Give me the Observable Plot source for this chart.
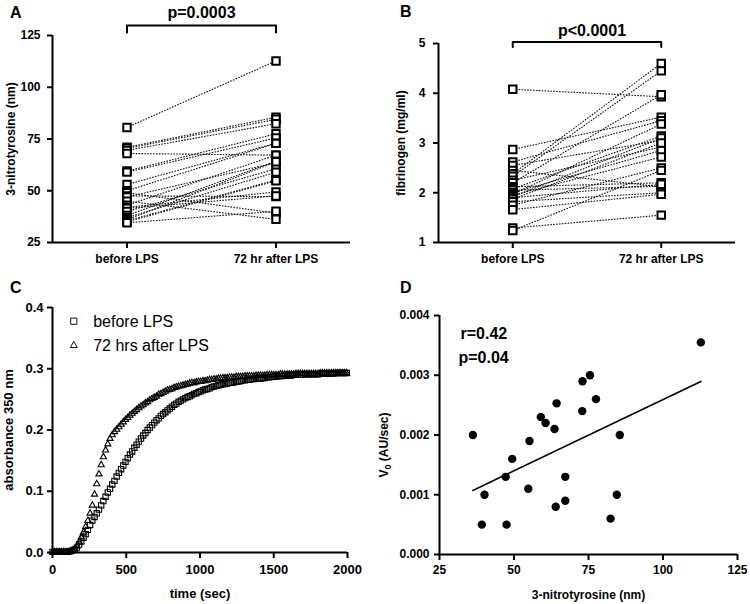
<!DOCTYPE html>
<html><head><meta charset="utf-8">
<script src="https://cdn.jsdelivr.net/npm/d3@7"></script>
<script src="https://cdn.jsdelivr.net/npm/@observablehq/plot@0.6"></script>
<style>
body{margin:0;background:#fff;}
#fig{position:relative;width:750px;height:604px;font-family:"Liberation Sans",Arial,Helvetica,sans-serif;background:#fff;}
.panel{position:absolute;}
#overlay{position:absolute;left:0;top:0;pointer-events:none;}
</style></head><body><div id="fig"></div>
<script>
// ---------- data ----------
const groups = ["before LPS", "72 hr after LPS"];

// Panel A: 3-nitrotyrosine (nm), paired
const nitroBefore = [80.6,71,70.5,69.5,68,59.5,59,53,50,49,47.5,47,45,43,42,41.5,40,38,37,36,35.5,35,34.5];
const nitroAfter  = [112.7,85.5,84.5,82.4,67.2,77.5,75.5,73.0,72.9,39.2,47.2,63.6,36.2,67.2,49.4,47.5,60.6,64.3,59.0,64.0,55.2,54.8,40.1];
const nitroTicks = [25,50,75,100,125];

// Panel B: fibrinogen (mg/ml), paired
const fibBefore = [4.08,2.87,2.62,2.55,2.45,2.38,2.33,2.25,2.2,2.12,2.08,2.05,2.0,1.97,1.95,1.92,1.9,1.87,1.82,1.75,1.66,1.29,1.24];
const fibAfter  = [3.93,3.52,3.45,3.05,2.12,4.6,4.45,2.92,3.97,2.2,3.14,2.13,2.85,3.38,2.72,3.1,2.17,3.0,2.0,2.5,1.97,1.55,2.45];
const fibTicks = [1,2,3,4,5];

// Panel C: turbidity curves, one reading every 15 s
const sampleStep = 15;
const absBefore = [
 .001,.001,.001,.001,.001,.001,.001,.001,.002,.003,
 .005,.008,.013,.018,.024,.030,.037,.045,.052,.058,
 .064,.070,.077,.084,.091,.098,.104,.111,.117,.124,
 .130,.136,.142,.148,.154,.160,.165,.171,.176,.181,
 .186,.191,.195,.200,.204,.208,.212,.216,.219,.223,
 .226,.229,.232,.235,.238,.241,.243,.246,.248,.250,
 .252,.254,.255,.257,.259,.260,.262,.263,.265,.266,
 .267,.268,.270,.271,.272,.273,.274,.275,.275,.276,
 .277,.277,.278,.279,.279,.280,.281,.281,.282,.282,
 .283,.283,.284,.284,.284,.285,.285,.286,.286,.287,
 .287,.287,.288,.288,.288,.289,.289,.289,.289,.290,
 .290,.290,.290,.290,.291,.291,.291,.291,.291,.291,
 .291,.292,.292,.292,.292,.292,.292,.292,.293,.293,
 .293,.293,.293,.293];
const absAfter = [
 .001,.001,.001,.001,.001,.001,.001,.001,.002,.003,
 .005,.010,.017,.025,.033,.042,.052,.064,.077,.095,
 .112,.128,.143,.156,.167,.177,.186,.192,.197,.201,
 .205,.209,.213,.217,.220,.224,.227,.230,.233,.236,
 .239,.241,.244,.246,.249,.251,.253,.255,.258,.259,
 .261,.263,.265,.266,.267,.269,.270,.271,.272,.273,
 .274,.275,.276,.277,.277,.278,.279,.279,.280,.280,
 .281,.282,.282,.283,.283,.284,.284,.285,.285,.285,
 .286,.286,.286,.287,.287,.287,.287,.288,.288,.288,
 .288,.288,.289,.289,.289,.289,.289,.290,.290,.290,
 .290,.290,.290,.291,.291,.291,.291,.291,.291,.291,
 .292,.292,.292,.292,.292,.292,.292,.292,.292,.292,
 .292,.293,.293,.293,.293,.293,.293,.293,.293,.293,
 .293,.293,.293,.293];
const timeTicks = [0,500,1000,1500,2000];
const absTicks = [0,0.1,0.2,0.3,0.4];
const curveLabels = ["before LPS", "72 hrs after LPS"];

// Panel D: V0 vs 3-nitrotyrosine
const scatterNitro = [36.2,40.1,39.2,47.2,47.5,49.4,55.2,54.8,59.0,60.6,63.6,64.3,64.0,67.2,67.2,72.9,73.0,75.5,77.5,82.4,84.5,85.5,112.7];
const scatterV0 = [0.0020,0.0010,0.0005,0.0013,0.0005,0.0016,0.0019,0.0011,0.0023,0.0022,0.0021,0.00253,0.0008,0.0013,0.0009,0.0024,0.0029,0.0030,0.0026,0.0006,0.0010,0.0020,0.00355];
const v0Ticks = [0,0.001,0.002,0.003,0.004];
const scatterTicks = [25,50,75,100,125];

// ---------- drawing ----------
const FONT = '"Liberation Sans", Arial, Helvetica, sans-serif';
const baseStyle = {fontFamily: FONT, fontSize: "12px", fontWeight: "bold", background: "transparent", overflow: "visible", color: "black"};
const fig = document.getElementById("fig");
function place(node, left, top) {
  const d = document.createElement("div");
  d.className = "panel"; d.style.left = left + "px"; d.style.top = top + "px";
  d.appendChild(node); fig.appendChild(d);
}

function pairedPanel(o) {
  const innerH = o.height - o.marginTop - o.marginBottom;
  const k = (o.yDomain[1] - o.yDomain[0]) / innerH;
  const top = o.yDomain[1];
  const rows = o.before.map((b, i) => ({b, a: o.after[i]}));
  const pts = rows.flatMap(r => [{x: 0.5, y: r.b}, {x: 1.5, y: r.a}]);
  const bracket = [
    {x: 0.5, y: top + o.bracketEnd * k},
    {x: 0.5, y: top + o.bracketY * k},
    {x: 1.5, y: top + o.bracketY * k},
    {x: 1.5, y: top + o.bracketEnd * k}
  ];
  return Plot.plot({
    width: 375, height: o.height,
    marginLeft: o.marginLeft, marginRight: o.marginRight, marginTop: o.marginTop, marginBottom: o.marginBottom,
    style: baseStyle,
    x: {domain: [0, 2]},
    y: {domain: o.yDomain},
    marks: [
      Plot.axisY({ticks: o.yTicks, tickFormat: d3.format("d"), tickSize: 5, tickPadding: o.tickPadY, strokeWidth: 2, label: o.yLabel, labelAnchor: "center", labelOffset: o.labelOffset, labelArrow: "none"}),
      Plot.axisX({ticks: [0.5, 1.5], tickFormat: d => groups[Math.round(d - 0.5)], tickSize: 6, tickPadding: 6, strokeWidth: 2, label: null}),
      Plot.ruleX([0], {strokeWidth: 2}),
      Plot.ruleY([o.yDomain[0]], {strokeWidth: 2}),
      Plot.link(rows, {x1: () => 0.5, y1: "b", x2: () => 1.5, y2: "a", stroke: "#111", strokeWidth: 1.1, strokeDasharray: "1.6,1.3"}),
      Plot.dot(pts, {x: "x", y: "y", symbol: "square", r: 4.2, stroke: "black", strokeWidth: 2, fill: "white"}),
      Plot.line(bracket, {x: "x", y: "y", stroke: "black", strokeWidth: 2}),
      Plot.text([o.pText], {text: d => d, frameAnchor: "top", dy: -o.textY, dx: o.textDx, lineAnchor: "bottom", fontSize: 16, fontWeight: "bold"})
    ]
  });
}

place(pairedPanel({
  before: nitroBefore, after: nitroAfter, height: 300,
  marginLeft: 52, marginRight: 25, marginTop: 35, marginBottom: 58,
  yDomain: [25, 125], yTicks: nitroTicks, tickPadY: 7, yLabel: "3-nitrotyrosine (nm)", labelOffset: 46,
  bracketY: 10, bracketEnd: 3, textY: 17.7, textDx: 0, pText: "p=0.0003"
}), 0, 0);

place(pairedPanel({
  before: fibBefore, after: fibAfter, height: 300,
  marginLeft: 63, marginRight: 15, marginTop: 43, marginBottom: 58,
  yDomain: [1, 5], yTicks: fibTicks, tickPadY: 8, yLabel: "fibrinogen (mg/ml)", labelOffset: 42,
  bracketY: 1.6, bracketEnd: -3.4, textY: 7.3, textDx: 5, pText: "p<0.0001"
}), 375, 0);

// Panel C
const curveBefore = absBefore.map((v, i) => ({t: i * sampleStep, a: v}));
const curveAfter = absAfter.map((v, i) => ({t: i * sampleStep, a: v}));
place(Plot.plot({
  width: 375, height: 304, marginLeft: 52, marginRight: 28, marginTop: 7, marginBottom: 52,
  style: baseStyle,
  x: {domain: [0, 2000]}, y: {domain: [0, 0.4]},
  marks: [
    Plot.axisY({ticks: absTicks, tickFormat: d3.format(".1f"), tickSize: 5, tickPadding: 4, strokeWidth: 2, fontSize: 13, label: "absorbance 350 nm", labelAnchor: "center", labelOffset: 49, labelArrow: "none"}),
    Plot.axisX({ticks: timeTicks, tickFormat: d3.format("d"), tickSize: 6, tickPadding: 6, strokeWidth: 2, fontSize: 13, label: "time (sec)", labelAnchor: "center", labelOffset: 45, labelArrow: "none"}),
    Plot.ruleX([0], {strokeWidth: 2}),
    Plot.ruleY([0], {strokeWidth: 2}),
    Plot.dot(curveBefore, {x: "t", y: "a", symbol: "square", r: 3, stroke: "#000", strokeWidth: 1.1, fill: "none"}),
    Plot.dot(curveAfter, {x: "t", y: "a", symbol: "triangle", r: 2.3, stroke: "#000", strokeWidth: 1.1, fill: "none"}),
    Plot.dot([0], {frameAnchor: "top-left", dx: 21.3, dy: 13.7, symbol: "square", r: 3.5, stroke: "#111", strokeWidth: 1, fill: "none"}),
    Plot.dot([0], {frameAnchor: "top-left", dx: 21.3, dy: 38, symbol: "triangle", r: 2.6, stroke: "#111", strokeWidth: 1, fill: "none"}),
    Plot.text([curveLabels[0]], {text: d => d, frameAnchor: "top-left", dx: 40.7, dy: 19.7, lineAnchor: "bottom", textAnchor: "start", fontSize: 16, fontWeight: "normal"}),
    Plot.text([curveLabels[1]], {text: d => d, frameAnchor: "top-left", dx: 40.7, dy: 43.7, lineAnchor: "bottom", textAnchor: "start", fontSize: 16, fontWeight: "normal"})
  ]
}), 0, 300);

// Panel D
const scatter = scatterNitro.map((x, i) => ({x, y: scatterV0[i]}));
place(Plot.plot({
  width: 375, height: 304, marginLeft: 64, marginRight: 13, marginTop: 15, marginBottom: 50,
  style: baseStyle,
  x: {domain: [25, 125]}, y: {domain: [0, 0.004]},
  marks: [
    Plot.axisY({ticks: v0Ticks, tickFormat: d3.format(".3f"), tickSize: 5, tickPadding: 5, strokeWidth: 2, label: null}),
    Plot.axisX({ticks: scatterTicks, tickFormat: d3.format("d"), tickSize: 6, tickPadding: 5, strokeWidth: 2, label: "3-nitrotyrosine (nm)", labelAnchor: "center", labelOffset: 44, labelArrow: "none"}),
    Plot.ruleX([25], {strokeWidth: 2}),
    Plot.ruleY([0], {strokeWidth: 2}),
    Plot.linearRegressionY(scatter, {x: "x", y: "y", ci: 0, stroke: "black", strokeWidth: 1.6}),
    Plot.dot(scatter, {x: "x", y: "y", r: 4.2, fill: "black", stroke: "none"}),
    Plot.text(["r=0.42"], {text: d => d, frameAnchor: "top-left", dx: 21, dy: 23, lineAnchor: "bottom", textAnchor: "start", fontSize: 16, fontWeight: "bold"}),
    Plot.text(["p=0.04"], {text: d => d, frameAnchor: "top-left", dx: 19, dy: 47, lineAnchor: "bottom", textAnchor: "start", fontSize: 16, fontWeight: "bold"})
  ]
}), 375, 300);

// Overlay: panel letters and the V0 axis label (with subscript)
const NS = "http://www.w3.org/2000/svg";
const ov = document.createElementNS(NS, "svg");
ov.setAttribute("id", "overlay"); ov.setAttribute("width", 750); ov.setAttribute("height", 604);
ov.style.fontFamily = FONT; ov.style.fontWeight = "bold";
const letters = [["A", 10, 18], ["B", 400, 17], ["C", 10, 293], ["D", 400, 293]];
for (const [s, x, y] of letters) {
  const t = document.createElementNS(NS, "text");
  t.setAttribute("x", x); t.setAttribute("y", y); t.setAttribute("font-size", 16);
  t.textContent = s; ov.appendChild(t);
}
const yl = document.createElementNS(NS, "text");
yl.setAttribute("transform", "translate(388,445) rotate(-90)");
yl.setAttribute("text-anchor", "middle"); yl.setAttribute("font-size", 12);
const t1 = document.createElementNS(NS, "tspan"); t1.textContent = "V";
const t2 = document.createElementNS(NS, "tspan"); t2.textContent = "0"; t2.setAttribute("font-size", 9); t2.setAttribute("dy", 3);
const t3 = document.createElementNS(NS, "tspan"); t3.textContent = " (AU/sec)"; t3.setAttribute("dy", -3);
yl.append(t1, t2, t3); ov.appendChild(yl);
fig.appendChild(ov);
</script></body></html>
